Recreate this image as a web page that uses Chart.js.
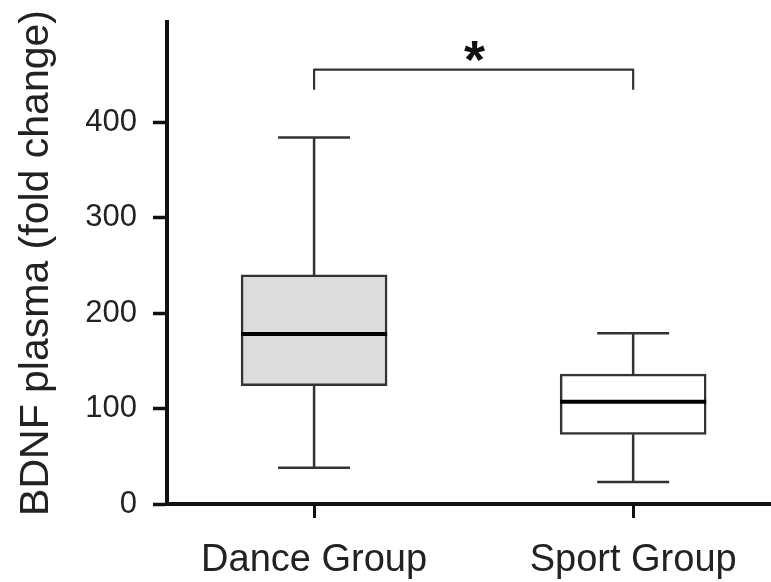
<!DOCTYPE html>
<html>
<head>
<meta charset="utf-8">
<script src="https://cdn.jsdelivr.net/npm/chart.js@4.4.0/dist/chart.umd.min.js"></script>
<style>
  html, body { margin: 0; padding: 0; background: #fff; }
  #wrap { width: 771px; height: 582px; position: relative; }
</style>
</head>
<body>
<div id="wrap"><canvas id="chart"></canvas></div>
<script>
// box plot values
const groups = ['Dance Group', 'Sport Group'];
const whiskerLow = [38, 23];
const q1 = [124, 73];
const median = [178, 107];
const q3 = [240, 136];
const whiskerHigh = [384, 179];
const yTicks = [0, 100, 200, 300, 400];

// significance bracket between the two groups
const bracketGroups = [0, 1];
const bracketTop = 455;
const bracketBottom = 434;
const bracketLabel = '*';

const fontFamily = '"Liberation Sans", Arial, Helvetica, sans-serif';
const ink = '#222';

const boxPlotExtras = {
  id: 'boxPlotExtras',
  afterDatasetsDraw(chart) {
    const { ctx, scales: { x, y } } = chart;
    const capHalf = 36;
    const boxHalf = 73;
    ctx.save();
    ctx.lineCap = 'butt';

    groups.forEach((g, i) => {
      const cx = x.getPixelForValue(i);
      // whiskers
      ctx.strokeStyle = '#333';
      ctx.lineWidth = 2.5;
      ctx.beginPath();
      ctx.moveTo(cx, y.getPixelForValue(q3[i]));
      ctx.lineTo(cx, y.getPixelForValue(whiskerHigh[i]));
      ctx.moveTo(cx, y.getPixelForValue(q1[i]));
      ctx.lineTo(cx, y.getPixelForValue(whiskerLow[i]));
      // caps
      ctx.moveTo(cx - capHalf, y.getPixelForValue(whiskerHigh[i]));
      ctx.lineTo(cx + capHalf, y.getPixelForValue(whiskerHigh[i]));
      ctx.moveTo(cx - capHalf, y.getPixelForValue(whiskerLow[i]));
      ctx.lineTo(cx + capHalf, y.getPixelForValue(whiskerLow[i]));
      ctx.stroke();

      // median
      ctx.strokeStyle = '#000';
      ctx.lineWidth = 4;
      ctx.beginPath();
      ctx.moveTo(cx - boxHalf, y.getPixelForValue(median[i]));
      ctx.lineTo(cx + boxHalf, y.getPixelForValue(median[i]));
      ctx.stroke();
    });

    // bracket
    const xa = x.getPixelForValue(bracketGroups[0]);
    const xb = x.getPixelForValue(bracketGroups[1]);
    const yt = y.getPixelForValue(bracketTop);
    const yb = y.getPixelForValue(bracketBottom);
    ctx.strokeStyle = '#333';
    ctx.lineWidth = 2.2;
    ctx.lineJoin = 'round';
    ctx.beginPath();
    ctx.moveTo(xa, yb);
    ctx.lineTo(xa, yt);
    ctx.lineTo(xb, yt);
    ctx.lineTo(xb, yb);
    ctx.stroke();

    // asterisk, centred 18px above the bracket
    ctx.font = 'bold 54px ' + fontFamily;
    ctx.fillStyle = '#111';
    ctx.textAlign = 'center';
    ctx.textBaseline = 'alphabetic';
    const m = ctx.measureText(bracketLabel);
    const cy = yt - 18;
    const base = cy + (m.actualBoundingBoxAscent - m.actualBoundingBoxDescent) / 2;
    ctx.fillText(bracketLabel, (xa + xb) / 2 + 1, base);
    ctx.restore();
  }
};

const ctx = document.getElementById('chart').getContext('2d');
new Chart(ctx, {
  type: 'bar',
  data: {
    datasets: [{
      data: groups.map((g, i) => ({ x: i, y: [q1[i], q3[i]] })),
      backgroundColor: ['#dcdcdc', '#ffffff'],
      borderColor: '#333',
      borderWidth: 2.5,
      borderSkipped: false,
      barThickness: 146
    }]
  },
  options: {
    responsive: true,
    maintainAspectRatio: false,
    animation: false,
    layout: { padding: { top: 22, right: 0, left: 0, bottom: 0 } },
    plugins: {
      legend: { display: false },
      tooltip: { enabled: false }
    },
    scales: {
      x: {
        type: 'linear',
        offset: false,
        min: -0.461,
        max: 1.432,
        afterBuildTicks: (axis) => { axis.ticks = groups.map((g, i) => ({ value: i })); },
        afterFit: (axis) => {
          axis.height = 78;
          axis.paddingLeft = 0;
          axis.paddingRight = 0;
        },
        grid: {
          offset: false,
          drawOnChartArea: false,
          tickLength: 14,
          tickWidth: 3,
          tickColor: '#111'
        },
        border: { display: true, width: 4, color: '#111' },
        ticks: {
          autoSkip: false,
          maxRotation: 0,
          padding: 20,
          color: ink,
          font: { family: fontFamily, size: 38 },
          callback: (v, i) => groups[i]
        }
      },
      y: {
        min: 0,
        max: 505,
        afterBuildTicks: (axis) => { axis.ticks = yTicks.map(v => ({ value: v })); },
        afterFit: (axis) => {
          axis.width = 167;
          axis.paddingTop = 0;
          axis.paddingBottom = 0;
        },
        grid: {
          drawOnChartArea: false,
          tickLength: 14,
          tickWidth: 3.5,
          tickColor: '#111'
        },
        border: { display: true, width: 4, color: '#111' },
        ticks: {
          padding: 16,
          color: ink,
          font: { family: fontFamily, size: 31 }
        },
        title: {
          display: true,
          text: 'BDNF plasma (fold change)',
          color: ink,
          font: { family: fontFamily, size: 41 },
          padding: { top: 12, bottom: 0 }
        }
      }
    }
  },
  plugins: [boxPlotExtras]
});
</script>
</body>
</html>
